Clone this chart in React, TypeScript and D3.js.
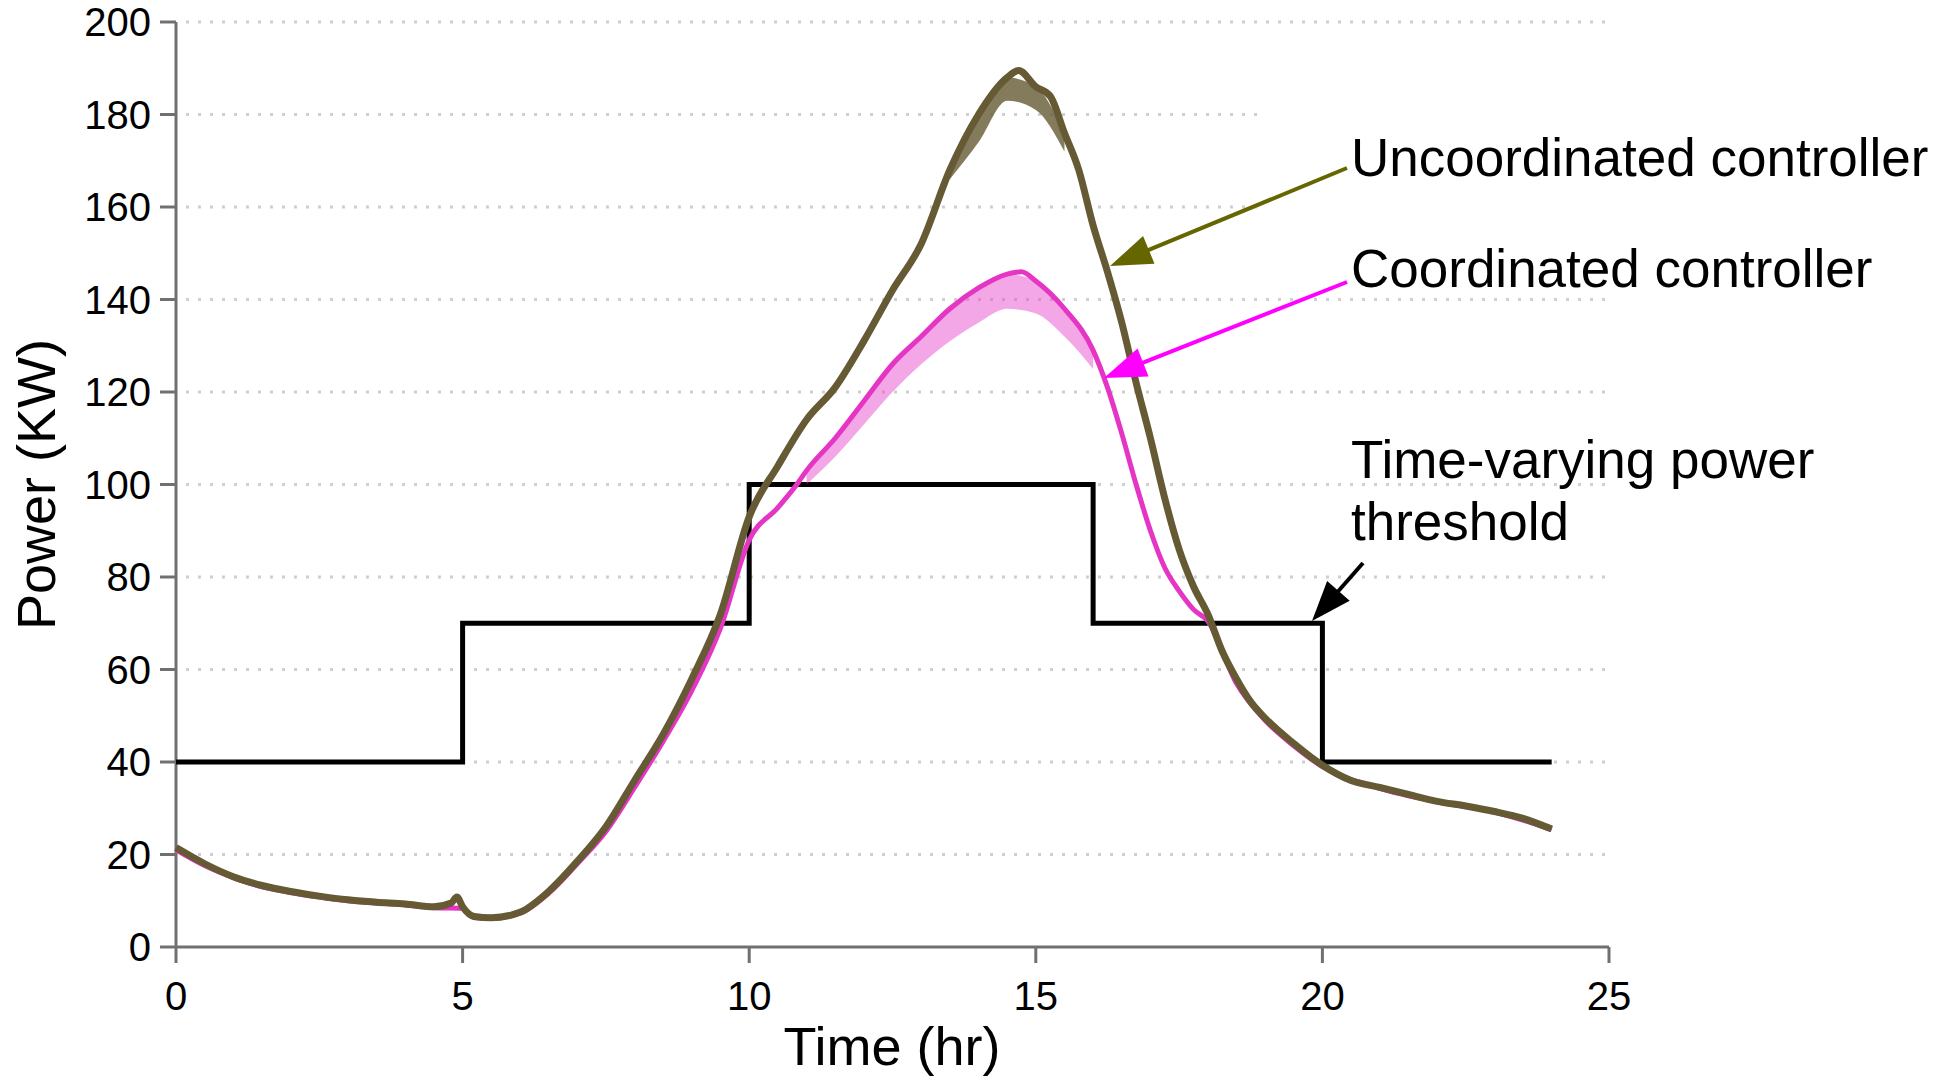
import React from "react";
import * as d3 from "d3";

// ---------- data ----------
const uncoordTimes = [0, 0.5, 1, 1.5, 2, 2.5, 3, 3.5, 4, 4.5, 4.8, 4.9, 5.0, 5.2, 5.5, 6.0, 6.5, 7.0, 7.5, 8.0, 8.5, 9.0, 9.5, 10.0, 10.5, 11.0, 11.5, 12.0, 12.5, 13.0, 13.5, 14.0, 14.5, 14.7, 15.0, 15.25, 15.5, 15.75, 16.0, 16.25, 16.5, 16.75, 17.0, 17.25, 17.5, 17.75, 18.0, 18.25, 18.5, 18.75, 19.0, 19.5, 20.0, 20.5, 21.0, 21.5, 22.0, 22.5, 23.0, 23.5, 24.0];
const uncoordValues = [21.5, 18, 15.2, 13.3, 12, 11, 10.2, 9.7, 9.3, 8.7, 9.5, 10.8, 8.7, 6.6, 6.3, 7.5, 12, 18.5, 26, 36, 46, 58, 72, 93, 104, 114, 121, 131, 142, 152, 168, 180, 188, 189.5, 186, 184, 176, 168, 156, 146, 135, 122, 110, 97, 86, 78, 72, 64, 58, 53, 49.5, 44, 39.3, 36, 34.5, 33, 31.5, 30.5, 29.3, 27.8, 25.5];
// lower reach of the downward spikes in the uncoordinated trace near its peak
const uncoordSpikeTimes = [13.5, 14.0, 14.5, 15.0, 15.5];
const uncoordSpikeLows = [166, 174, 183, 181, 172];

const coordTimes = [0, 0.5, 1, 1.5, 2, 2.5, 3, 3.5, 4, 4.5, 5.0, 5.2, 5.5, 6.0, 6.5, 7.0, 7.5, 8.0, 8.5, 9.0, 9.5, 10.0, 10.5, 10.83, 11.0, 11.5, 12.0, 12.5, 13.0, 13.5, 14.0, 14.5, 14.75, 15.0, 15.5, 16.0, 16.25, 16.5, 16.75, 17.0, 17.25, 17.5, 17.75, 18.0, 18.5, 19.0, 19.5, 20.0, 21.0, 22.0, 23.0, 24.0];
const coordValues = [21, 17.6, 15, 13, 11.8, 10.8, 10, 9.5, 9.1, 8.5, 8.4, 6.4, 6.2, 7.3, 11.6, 18, 25, 34.5, 44.5, 55.5, 69, 88, 95, 100, 103, 110, 118, 126, 132, 138, 142.5, 145.5, 146, 144, 138, 129, 121, 111, 100, 90, 82, 77, 73, 70.5, 57, 49, 43.5, 39, 34.3, 31.4, 29.2, 25.4];
// lower reach of the dense downward spikes in the coordinated trace
const coordSpikeTimes = [11.0, 11.5, 12.0, 12.5, 13.0, 13.5, 14.0, 14.5, 15.0, 15.5, 16.0];
const coordSpikeLows = [100, 106, 113, 120, 126, 131, 135, 138, 137, 132, 125];

const thresholdTimes = [0, 5, 10, 16, 20, 24];
const thresholdValues = [40, 70, 100, 70, 40, 40];

const xTicks = [0, 5, 10, 15, 20, 25];
const yTicks = [0, 20, 40, 60, 80, 100, 120, 140, 160, 180, 200];

// ---------- layout ----------
const W = 1954;
const H = 1077;
const FONT = "'Liberation Sans', Arial, Helvetica, sans-serif";

const x = d3.scaleLinear().domain([0, 25]).range([176, 1609]);
const y = d3.scaleLinear().domain([0, 200]).range([947, 22]);

function Arrow({ x1, y1, x2, y2, color, width, headLen, headHalf }: any) {
  const dx = x2 - x1;
  const dy = y2 - y1;
  const len = Math.sqrt(dx * dx + dy * dy);
  const ux = dx / len;
  const uy = dy / len;
  const bx = x2 - ux * headLen;
  const by = y2 - uy * headLen;
  const px = -uy;
  const py = ux;
  const pts = `${x2},${y2} ${bx + px * headHalf},${by + py * headHalf} ${bx - px * headHalf},${by - py * headHalf}`;
  return (
    <g>
      <line x1={x1} y1={y1} x2={bx + ux * 2} y2={by + uy * 2} stroke={color} strokeWidth={width} />
      <polygon points={pts} fill={color} />
    </g>
  );
}

function interp(ts: number[], vs: number[], t: number) {
  const i = d3.bisectLeft(ts, t);
  if (ts[i] === t) return vs[i];
  const t0 = ts[i - 1], t1 = ts[i];
  const v0 = vs[i - 1], v1 = vs[i];
  return v0 + ((v1 - v0) * (t - t0)) / (t1 - t0);
}

export default function App() {
  const uncoord = uncoordTimes.map((t, i) => [t, uncoordValues[i]] as [number, number]);
  const coord = coordTimes.map((t, i) => [t, coordValues[i]] as [number, number]);
  const thresh = thresholdTimes.map((t, i) => [t, thresholdValues[i]] as [number, number]);

  const line = d3
    .line<[number, number]>()
    .x((d) => x(d[0]))
    .y((d) => y(d[1]))
    .curve(d3.curveMonotoneX);
  const stepLine = d3
    .line<[number, number]>()
    .x((d) => x(d[0]))
    .y((d) => y(d[1]))
    .curve(d3.curveStepAfter);

  const band = (ts: number[], vs: number[], lows: number[]) =>
    d3
      .area<number>()
      .x((t) => x(t))
      .y0((_, i) => y(lows[i]))
      .y1((t) => y(interp(ts, vs, t)))
      .curve(d3.curveMonotoneX);

  const coordBand = band(coordTimes, coordValues, coordSpikeLows);
  const uncoordBand = band(uncoordTimes, uncoordValues, uncoordSpikeLows);

  const gridEnd = x(25);

  return (
    <svg
      width={W}
      height={H}
      style={{ position: "absolute", left: 0, top: 0, background: "#fff" }}
      fontFamily={FONT}
    >
      <rect x={0} y={0} width={W} height={H} fill="#fff" />
      {/* grid */}
      {yTicks
        .filter((v) => v > 0)
        .map((v) => (
          <line
            key={"g" + v}
            x1={x(0) + 10}
            x2={gridEnd}
            y1={y(v)}
            y2={y(v)}
            stroke="#cfcfcf"
            strokeWidth={3}
            strokeDasharray="3 9"
          />
        ))}
      {/* white box behind the top annotation */}
      <rect x={1262} y={100} width={700} height={130} fill="#fff" />

      {/* axes */}
      <line x1={x(0)} x2={x(0)} y1={y(200)} y2={y(0)} stroke="#707070" strokeWidth={3} />
      <line x1={x(0)} x2={x(25)} y1={y(0)} y2={y(0)} stroke="#707070" strokeWidth={3} />
      {yTicks.map((v) => (
        <g key={"yt" + v}>
          <line x1={x(0) - 16} x2={x(0)} y1={y(v)} y2={y(v)} stroke="#707070" strokeWidth={3} />
          <text x={151} y={y(v)} dy="0.35em" textAnchor="end" fontSize={40} fill="#000">
            {v}
          </text>
        </g>
      ))}
      {xTicks.map((v) => (
        <g key={"xt" + v}>
          <line x1={x(v)} x2={x(v)} y1={y(0)} y2={y(0) + 16} stroke="#707070" strokeWidth={3} />
          <text x={x(v)} y={1010} textAnchor="middle" fontSize={40} fill="#000">
            {v}
          </text>
        </g>
      ))}
      <text x={892} y={1065} textAnchor="middle" fontSize={54} fill="#000">
        Time (hr)
      </text>
      <text
        transform={`translate(55, ${y(100)}) rotate(-90)`}
        textAnchor="middle"
        fontSize={54}
        fill="#000"
      >
        Power (KW)
      </text>

      {/* threshold */}
      <path d={stepLine(thresh) || ""} fill="none" stroke="#000" strokeWidth={5} />

      {/* coordinated */}
      <path d={coordBand(coordSpikeTimes) || ""} fill="#e63cc8" fillOpacity={0.45} stroke="none" />
      <path d={line(coord) || ""} fill="none" stroke="#e535c5" strokeWidth={5} />

      {/* uncoordinated */}
      <path d={uncoordBand(uncoordSpikeTimes) || ""} fill="#655a34" fillOpacity={0.8} stroke="none" />
      <path d={line(uncoord) || ""} fill="none" stroke="#655a34" strokeWidth={7} />

      {/* annotations */}
      <Arrow x1={1347} y1={168} x2={1110} y2={266} color="#666600" width={4} headLen={42} headHalf={15} />
      <Arrow x1={1347} y1={282} x2={1104} y2={378} color="#ff00ff" width={4} headLen={42} headHalf={15} />
      <Arrow x1={1363} y1={563} x2={1312} y2={621} color="#000" width={4} headLen={40} headHalf={15} />

      <text x={1351} y={176} fontSize={53} fill="#000">
        Uncoordinated controller
      </text>
      <text x={1351} y={287} fontSize={53} fill="#000">
        Coordinated controller
      </text>
      <text x={1351} y={478} fontSize={53} fill="#000">
        Time-varying power
      </text>
      <text x={1351} y={540} fontSize={53} fill="#000">
        threshold
      </text>
    </svg>
  );
}
